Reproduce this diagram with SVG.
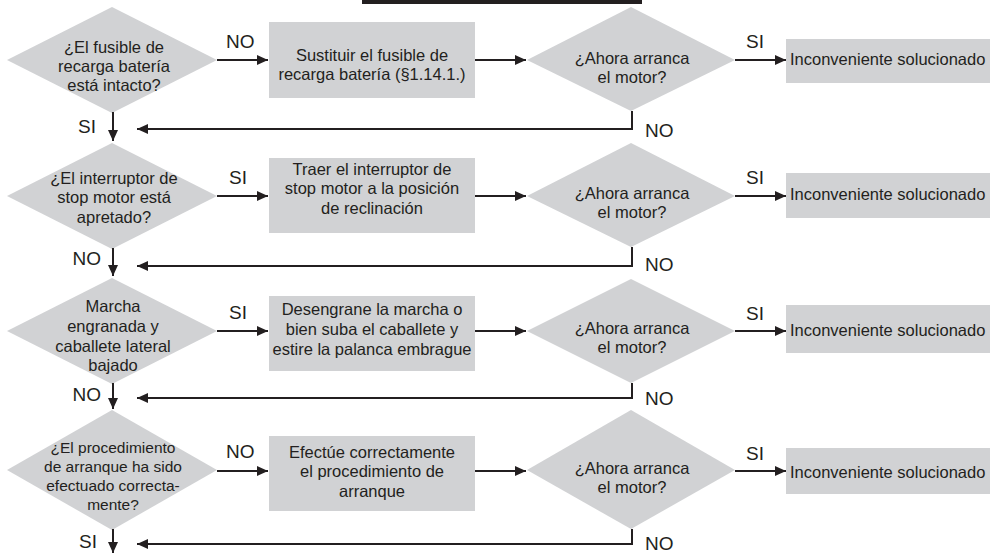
<svg xmlns="http://www.w3.org/2000/svg" width="990" height="554" viewBox="0 0 990 554">
<defs>
<style>
.shape{fill:#d1d2d4;stroke:none}
.t{font-family:"Liberation Sans",Arial,Helvetica,sans-serif;font-size:16.5px;fill:#231f20;text-anchor:middle}
.ts{font-size:15.5px}
.tl{text-anchor:start}
.lab{font-family:"Liberation Sans",Arial,Helvetica,sans-serif;font-size:19px;fill:#231f20}
.end{text-anchor:end}
.c{fill:none;stroke:#231f20;stroke-width:2}
.a{marker-end:url(#ah)}
</style>
<marker id="ah" viewBox="0 0 11 10" refX="11" refY="5" markerWidth="11" markerHeight="10" markerUnits="userSpaceOnUse" orient="auto">
<path d="M0,0 L11,5 L0,10 z" fill="#231f20"/>
</marker>
</defs>
<rect x="362" y="0" width="280" height="4" fill="#231f20"/>

<!-- Row 1 -->
<g id="d1">
<polygon class="shape" points="7,60 112,7 217,60 112,113"/>
<text class="t" x="114" y="53">¿El fusible de</text>
<text class="t" x="114" y="72">recarga batería</text>
<text class="t" x="114" y="91">está intacto?</text>
</g>
<g id="b1">
<rect class="shape" x="269" y="22" width="206" height="76"/>
<text class="t" x="372" y="61">Sustituir el fusible de</text>
<text class="t" x="372" y="80">recarga batería (§1.14.1.)</text>
</g>
<g id="q1">
<polygon class="shape" points="527,60 631,7 735,60 631,111"/>
<text class="t" x="632" y="64">¿Ahora arranca</text>
<text class="t" x="632" y="83">el motor?</text>
</g>
<g id="r1">
<rect class="shape" x="786" y="39" width="204" height="44"/>
<text class="t tl" x="790" y="65">Inconveniente solucionado</text>
</g>

<!-- Row 2 -->
<g id="d2">
<polygon class="shape" points="7,196 112,143 217,196 112,249"/>
<text class="t" x="114" y="184">¿El interruptor de</text>
<text class="t" x="114" y="203">stop motor está</text>
<text class="t" x="114" y="223">apretado?</text>
</g>
<g id="b2">
<rect class="shape" x="269" y="158" width="206" height="75"/>
<text class="t" x="372" y="175">Traer el interruptor de</text>
<text class="t" x="372" y="194">stop motor a la posición</text>
<text class="t" x="372" y="214">de reclinación</text>
</g>
<g id="q2">
<polygon class="shape" points="527,196 631,143 735,196 631,247"/>
<text class="t" x="632" y="199">¿Ahora arranca</text>
<text class="t" x="632" y="218">el motor?</text>
</g>
<g id="r2">
<rect class="shape" x="786" y="173" width="204" height="45"/>
<text class="t tl" x="790" y="200">Inconveniente solucionado</text>
</g>

<!-- Row 3 -->
<g id="d3">
<polygon class="shape" points="7,331 112,278 217,331 112,384"/>
<text class="t" x="113" y="312">Marcha</text>
<text class="t" x="113" y="332">engranada y</text>
<text class="t" x="113" y="352">caballete lateral</text>
<text class="t" x="113" y="371">bajado</text>
</g>
<g id="b3">
<rect class="shape" x="269" y="296" width="206" height="75"/>
<text class="t" x="372" y="315">Desengrane la marcha o</text>
<text class="t" x="372" y="335">bien suba el caballete y</text>
<text class="t" x="372" y="355">estire la palanca embrague</text>
</g>
<g id="q3">
<polygon class="shape" points="527,331 631,279 735,331 631,383"/>
<text class="t" x="632" y="334">¿Ahora arranca</text>
<text class="t" x="632" y="353">el motor?</text>
</g>
<g id="r3">
<rect class="shape" x="786" y="305" width="204" height="48"/>
<text class="t tl" x="790" y="336">Inconveniente solucionado</text>
</g>

<!-- Row 4 -->
<g id="d4">
<polygon class="shape" points="7,470 112,410 217,470 112,530"/>
<text class="t ts" x="113" y="453">¿El procedimiento</text>
<text class="t ts" x="113" y="472">de arranque ha sido</text>
<text class="t ts" x="113" y="491">efectuado correcta-</text>
<text class="t ts" x="113" y="510">mente?</text>
</g>
<g id="b4">
<rect class="shape" x="269" y="436" width="206" height="75"/>
<text class="t" x="372" y="458">Efectúe correctamente</text>
<text class="t" x="372" y="477">el procedimiento de</text>
<text class="t" x="372" y="497">arranque</text>
</g>
<g id="q4">
<polygon class="shape" points="527,470 631,410 735,470 631,529"/>
<text class="t" x="632" y="474">¿Ahora arranca</text>
<text class="t" x="632" y="493">el motor?</text>
</g>
<g id="r4">
<rect class="shape" x="786" y="448" width="204" height="46"/>
<text class="t tl" x="790" y="478">Inconveniente solucionado</text>
</g>

<!-- Connectors -->
<g id="connectors">
<line class="c a" x1="217" y1="60" x2="268" y2="60"/>
<line class="c a" x1="475" y1="60" x2="526" y2="60"/>
<line class="c a" x1="735" y1="60" x2="786" y2="60"/>
<polyline class="c a" points="632,111 632,129 137,129"/>
<line class="c a" x1="113" y1="112" x2="113" y2="141"/>

<line class="c a" x1="217" y1="196" x2="268" y2="196"/>
<line class="c a" x1="475" y1="196" x2="526" y2="196"/>
<line class="c a" x1="735" y1="196" x2="786" y2="196"/>
<polyline class="c a" points="632,247 632,266 137,266"/>
<line class="c a" x1="113" y1="248" x2="113" y2="276"/>

<line class="c a" x1="217" y1="331" x2="268" y2="331"/>
<line class="c a" x1="475" y1="331" x2="526" y2="331"/>
<line class="c a" x1="735" y1="331" x2="786" y2="331"/>
<polyline class="c a" points="632,383 632,398 137,398"/>
<line class="c a" x1="113" y1="383" x2="113" y2="409"/>

<line class="c a" x1="217" y1="471" x2="268" y2="471"/>
<line class="c a" x1="475" y1="471" x2="526" y2="471"/>
<line class="c a" x1="735" y1="471" x2="786" y2="471"/>
<polyline class="c a" points="632,529 632,544 137,544"/>
<line class="c a" x1="113" y1="529" x2="113" y2="553"/>

<text class="lab" x="226" y="48">NO</text>
<text class="lab" x="746" y="48">SI</text>
<text class="lab" x="645" y="137">NO</text>
<text class="lab end" x="96" y="133">SI</text>

<text class="lab" x="229" y="184">SI</text>
<text class="lab" x="746" y="184">SI</text>
<text class="lab" x="645" y="271">NO</text>
<text class="lab end" x="101" y="265">NO</text>

<text class="lab" x="229" y="319">SI</text>
<text class="lab" x="746" y="320">SI</text>
<text class="lab" x="645" y="405">NO</text>
<text class="lab end" x="101" y="401">NO</text>

<text class="lab" x="226" y="458">NO</text>
<text class="lab" x="746" y="460">SI</text>
<text class="lab" x="645" y="550">NO</text>
<text class="lab end" x="97" y="548">SI</text>
</g>
</svg>
